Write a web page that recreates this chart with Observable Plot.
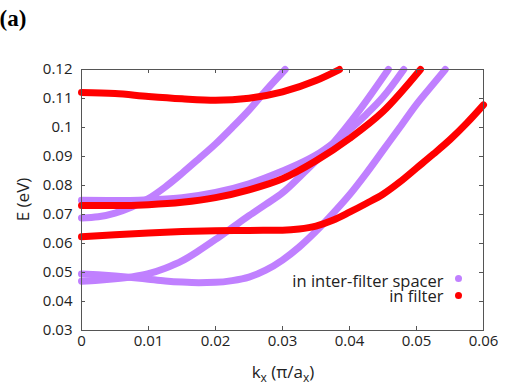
<!DOCTYPE html>
<html>
<head>
<meta charset="utf-8">
<script src="https://cdn.jsdelivr.net/npm/d3@7"></script>
<script src="https://cdn.jsdelivr.net/npm/@observablehq/plot@0.6"></script>
<style>
  html, body { margin: 0; padding: 0; background: #fff; }
  #chart svg { display: block; }
</style>
</head>
<body>
<div id="chart"></div>
<script>
// ---- data (k_x in π/a_x, E in eV) ----
const xTicks = [0, 0.01, 0.02, 0.03, 0.04, 0.05, 0.06];
const xTickLabels = ["0", "0.01", "0.02", "0.03", "0.04", "0.05", "0.06"];
const yTicks = [0.03, 0.04, 0.05, 0.06, 0.07, 0.08, 0.09, 0.10, 0.11, 0.12];
const yTickLabels = ["0.03", "0.04", "0.05", "0.06", "0.07", "0.08", "0.09", "0.1", "0.11", "0.12"];

const seriesNames = ["in inter-filter spacer", "in filter"];
const seriesColors = ["#c080ff", "#ff0000"];

// spacer bands (purple)
const spacerA = [[0,0.0688],[0.0025,0.0692],[0.005,0.0705],[0.0075,0.0726],[0.01,0.0755],[0.0125,0.0795],[0.015,0.0842],[0.0175,0.0892],[0.02,0.0943],[0.0225,0.1000],[0.025,0.1060],[0.0275,0.1127],[0.0304,0.1200]];
const spacerB = [[0,0.0749],[0.005,0.0748],[0.01,0.0751],[0.015,0.0758],[0.02,0.0776],[0.025,0.0806],[0.03,0.0850],[0.0325,0.0875],[0.035,0.0905],[0.0375,0.0945],[0.04,0.0992],[0.0425,0.1045],[0.045,0.1105],[0.0481,0.1200]];
const spacerC = [[0,0.0470],[0.0025,0.0473],[0.005,0.0478],[0.0075,0.0485],[0.01,0.0496],[0.0125,0.0515],[0.015,0.0540],[0.0175,0.0575],[0.02,0.0614],[0.0225,0.0655],[0.025,0.0696],[0.0275,0.0735],[0.03,0.0775],[0.033,0.0840],[0.0375,0.0945],[0.0415,0.1060],[0.0458,0.1200]];
const spacerD = [[0,0.0495],[0.0025,0.0492],[0.005,0.0488],[0.0075,0.0483],[0.01,0.0477],[0.0125,0.0471],[0.015,0.0467],[0.0175,0.0465],[0.02,0.0466],[0.0225,0.0472],[0.025,0.0484],[0.0275,0.0508],[0.03,0.0543],[0.0325,0.0588],[0.035,0.0642],[0.0375,0.0703],[0.04,0.0768],[0.0425,0.0842],[0.045,0.0921],[0.0475,0.1000],[0.05,0.1080],[0.0525,0.1150],[0.0543,0.1200]];

// filter bands (red)
const filterA = [[0,0.1121],[0.005,0.1117],[0.01,0.1107],[0.015,0.1099],[0.02,0.1094],[0.025,0.1101],[0.03,0.1123],[0.035,0.1162],[0.0385,0.1200]];
const filterB = [[0,0.0731],[0.005,0.0731],[0.01,0.0734],[0.015,0.0742],[0.02,0.0758],[0.025,0.0785],[0.03,0.0823],[0.035,0.0885],[0.04,0.0962],[0.045,0.1055],[0.0506,0.1200]];
const filterC = [[0,0.0623],[0.005,0.0630],[0.01,0.0636],[0.015,0.0641],[0.02,0.0644],[0.025,0.0645],[0.03,0.0646],[0.0325,0.0650],[0.035,0.0660],[0.0375,0.0680],[0.04,0.0708],[0.0425,0.0738],[0.045,0.0770],[0.0475,0.0812],[0.05,0.0860],[0.0525,0.0908],[0.055,0.0958],[0.0575,0.1015],[0.06,0.1078]];

// ---- build tidy table ----
const bands = [
  {id: "sA", kind: 0, pts: spacerA},
  {id: "sB", kind: 0, pts: spacerB},
  {id: "sC", kind: 0, pts: spacerC},
  {id: "sD", kind: 0, pts: spacerD},
  {id: "fA", kind: 1, pts: filterA},
  {id: "fB", kind: 1, pts: filterB},
  {id: "fC", kind: 1, pts: filterC}
];
const rows = bands.flatMap(b => b.pts.map(([k, e]) => ({id: b.id, kind: b.kind, k, e})));
const spacerRows = rows.filter(r => r.kind === 0);
const filterRows = rows.filter(r => r.kind === 1);

// ---- layout ----
const W = 507, H = 389;
const mL = 81, mR = 24, mT = 69, mB = 59;
const fw = W - mL - mR, fh = H - mT - mB;
const frameColor = "#555";
const tickLen = 4;
const font = "'Open Sans', 'Noto Sans', sans-serif";

const fmtX = d => xTickLabels[xTicks.findIndex(t => Math.abs(t - d) < 1e-9)];
const fmtY = d => yTickLabels[yTicks.findIndex(t => Math.abs(t - d) < 1e-9)];
const innerX = xTicks.slice(1, -1);
const innerY = yTicks.slice(1, -1);
const legendFont = 16.5;

const chart = Plot.plot({
  width: W, height: H,
  marginLeft: mL, marginRight: mR, marginTop: mT, marginBottom: mB,
  style: {fontFamily: font, fontSize: "15px", color: "#222", background: "#fff"},
  x: {domain: [0, 0.06]},
  y: {domain: [0.03, 0.12]},
  marks: [
    Plot.line(spacerRows, {x: "k", y: "e", z: "id", stroke: seriesColors[0], strokeWidth: 7, strokeLinecap: "round", strokeLinejoin: "round", curve: "monotone-x"}),
    Plot.line(filterRows, {x: "k", y: "e", z: "id", stroke: seriesColors[1], strokeWidth: 7, strokeLinecap: "round", strokeLinejoin: "round", curve: "monotone-x"}),
    Plot.frame({stroke: frameColor, strokeWidth: 1}),
    // inward ticks on all four sides
    Plot.tickX(innerX, {x: d => d, insetTop: fh - tickLen, stroke: frameColor}),
    Plot.tickX(innerX, {x: d => d, insetBottom: fh - tickLen, stroke: frameColor}),
    Plot.tickY(innerY, {y: d => d, insetRight: fw - tickLen, stroke: frameColor}),
    Plot.tickY(innerY, {y: d => d, insetLeft: fw - tickLen, stroke: frameColor}),
    Plot.axisX(xTicks, {tickSize: 0, tickPadding: 5, tickFormat: fmtX, label: null, fontSize: 15, fill: "#222"}),
    Plot.axisY(yTicks, {tickSize: 0, tickPadding: 9, tickFormat: fmtY, label: null, fontSize: 15, fill: "#222"}),
    // legend (one two-line text block)
    Plot.text([seriesNames.join("\n")], {text: d => d, frameAnchor: "bottom-right", dx: -40, dy: -41, textAnchor: "end", lineAnchor: "middle", lineHeight: 15.7 / legendFont, fontSize: legendFont, fill: "#222"}),
    Plot.dot([0], {frameAnchor: "bottom-right", dx: -25, dy: -52, r: 3.5, fill: seriesColors[0], stroke: "none"}),
    Plot.dot([0], {frameAnchor: "bottom-right", dx: -25, dy: -35, r: 3.5, fill: seriesColors[1], stroke: "none"})
  ]
});

document.getElementById("chart").appendChild(chart);

// axis titles with subscripts, and panel tag
const svg = d3.select(chart);
const xt = svg.append("text")
  .attr("x", mL + fw / 2 + 1).attr("y", H - 11)
  .attr("text-anchor", "middle")
  .attr("font-family", font).attr("font-size", 17).attr("fill", "#222");
xt.append("tspan").text("k");
xt.append("tspan").attr("font-size", 12).attr("dy", 4).text("x");
xt.append("tspan").attr("dy", -4).text(" (π/a");
xt.append("tspan").attr("font-size", 12).attr("dy", 4).text("x");
xt.append("tspan").attr("dy", -4).text(")");

svg.append("text")
  .attr("transform", `translate(22,${mT + fh / 2}) rotate(-90)`)
  .attr("text-anchor", "middle").attr("dominant-baseline", "central")
  .attr("font-family", font).attr("font-size", 17).attr("fill", "#222")
  .text("E (eV)");

svg.append("text")
  .attr("x", 13).attr("y", 26)
  .attr("font-family", "'Liberation Serif', 'Times New Roman', serif")
  .attr("font-weight", "bold").attr("font-size", 23).attr("fill", "#000")
  .text("(a)");
</script>
</body>
</html>
